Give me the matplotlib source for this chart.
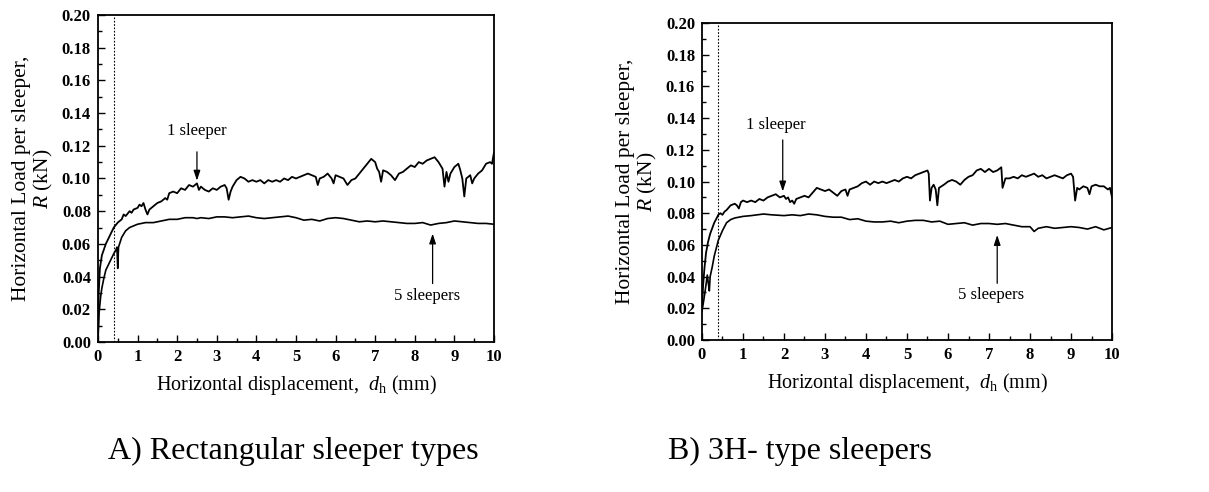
import matplotlib
matplotlib.use("Agg")
import matplotlib.pyplot as plt
from matplotlib.ticker import MultipleLocator

plt.rcParams['font.family'] = ['Liberation Serif', 'DejaVu Serif']
plt.rcParams['mathtext.fontset'] = 'custom'
plt.rcParams['mathtext.rm'] = 'Liberation Serif'
plt.rcParams['mathtext.it'] = 'Liberation Serif:italic'

# panel A, rectangular sleepers
rect_one_x = [0.0, 0.02, 0.05, 0.1, 0.2, 0.3, 0.4, 0.5, 0.6, 0.65, 0.7, 0.8, 0.85, 0.9, 1.0, 1.05, 1.1, 1.15,
              1.2, 1.25, 1.3, 1.4, 1.5, 1.6, 1.7, 1.75, 1.8, 1.9, 2.0, 2.1, 2.2, 2.3, 2.4, 2.5, 2.55, 2.6, 2.7,
              2.8, 2.9, 3.0, 3.1, 3.2, 3.25, 3.3, 3.35, 3.4, 3.5, 3.6, 3.7, 3.8, 3.9, 4.0, 4.1, 4.2, 4.3, 4.4,
              4.5, 4.6, 4.7, 4.8, 4.9, 5.0, 5.1, 5.2, 5.3, 5.4, 5.5, 5.55, 5.6, 5.7, 5.8, 5.9, 5.95, 6.0, 6.1,
              6.2, 6.3, 6.4, 6.5, 6.6, 6.7, 6.8, 6.9, 7.0, 7.05, 7.1, 7.15, 7.2, 7.3, 7.4, 7.5, 7.6, 7.7, 7.8,
              7.9, 8.0, 8.1, 8.2, 8.3, 8.4, 8.5, 8.6, 8.7, 8.75, 8.8, 8.85, 8.9, 9.0, 9.1, 9.15, 9.2, 9.25, 9.3,
              9.4, 9.45, 9.5, 9.6, 9.7, 9.8, 9.9, 9.95, 10.0]
rect_one_y = [0.000, 0.030, 0.045, 0.053, 0.060, 0.065, 0.070, 0.073, 0.075, 0.078, 0.077, 0.080, 0.079, 0.081,
              0.082, 0.084, 0.083, 0.085, 0.081, 0.078, 0.081, 0.083, 0.085, 0.086, 0.088, 0.087, 0.091, 0.092,
              0.091, 0.094, 0.093, 0.096, 0.095, 0.097, 0.093, 0.095, 0.093, 0.092, 0.094, 0.093, 0.095, 0.096,
              0.094, 0.087, 0.092, 0.095, 0.099, 0.101, 0.100, 0.098, 0.099, 0.098, 0.099, 0.097, 0.099, 0.098,
              0.099, 0.098, 0.100, 0.099, 0.101, 0.100, 0.101, 0.102, 0.103, 0.102, 0.101, 0.096, 0.100, 0.101,
              0.103, 0.100, 0.097, 0.102, 0.101, 0.100, 0.096, 0.099, 0.100, 0.103, 0.106, 0.109, 0.112, 0.110,
              0.106, 0.104, 0.098, 0.105, 0.104, 0.102, 0.099, 0.103, 0.104, 0.106, 0.108, 0.107, 0.110, 0.109,
              0.111, 0.112, 0.113, 0.110, 0.106, 0.095, 0.104, 0.098, 0.103, 0.107, 0.109, 0.105, 0.100, 0.089,
              0.100, 0.102, 0.097, 0.100, 0.103, 0.105, 0.109, 0.110, 0.109, 0.116]

rect_five_x = [0.0, 0.03, 0.07, 0.1, 0.15, 0.2, 0.3, 0.4, 0.45, 0.48, 0.5, 0.52, 0.6, 0.7, 0.8, 0.9, 1.0, 1.2,
               1.4, 1.6, 1.8, 2.0, 2.2, 2.4, 2.5, 2.6, 2.8, 3.0, 3.2, 3.4, 3.6, 3.8, 4.0, 4.2, 4.4, 4.6, 4.8,
               5.0, 5.2, 5.4, 5.6, 5.8, 6.0, 6.2, 6.4, 6.6, 6.8, 7.0, 7.2, 7.4, 7.6, 7.8, 8.0, 8.2, 8.4, 8.6,
               8.8, 9.0, 9.2, 9.4, 9.6, 9.8, 10.0]
rect_five_y = [0.000, 0.018, 0.028, 0.033, 0.039, 0.044, 0.049, 0.054, 0.056, 0.058, 0.045, 0.058, 0.064, 0.068,
               0.070, 0.071, 0.072, 0.073, 0.073, 0.074, 0.075, 0.075, 0.076, 0.076, 0.0755, 0.076, 0.0755, 0.0765,
               0.0765, 0.076, 0.0765, 0.077, 0.076, 0.0755, 0.076, 0.0765, 0.077, 0.076, 0.0745, 0.075, 0.074,
               0.0755, 0.076, 0.0755, 0.0745, 0.0735, 0.074, 0.0735, 0.074, 0.0735, 0.073, 0.0725, 0.0725, 0.073,
               0.0715, 0.0725, 0.073, 0.074, 0.0735, 0.073, 0.0725, 0.0725, 0.072]

# panel B, 3H-type sleepers
h3_one_x = [0.0, 0.03, 0.06, 0.1, 0.15, 0.2, 0.3, 0.4, 0.45, 0.5, 0.55, 0.6, 0.7, 0.8, 0.85, 0.9, 0.95, 1.0, 1.1,
            1.2, 1.3, 1.4, 1.5, 1.6, 1.7, 1.8, 1.9, 2.0, 2.05, 2.1, 2.15, 2.2, 2.25, 2.3, 2.4, 2.5, 2.6, 2.7,
            2.8, 2.9, 3.0, 3.1, 3.2, 3.3, 3.4, 3.5, 3.55, 3.6, 3.7, 3.8, 3.9, 4.0, 4.1, 4.2, 4.3, 4.4, 4.5,
            4.6, 4.7, 4.8, 4.9, 5.0, 5.1, 5.2, 5.3, 5.4, 5.5, 5.53, 5.56, 5.6, 5.65, 5.7, 5.74, 5.78, 5.9,
            6.0, 6.1, 6.2, 6.3, 6.4, 6.5, 6.6, 6.7, 6.8, 6.9, 7.0, 7.1, 7.2, 7.3, 7.33, 7.4, 7.5, 7.6, 7.7,
            7.8, 7.9, 8.0, 8.1, 8.2, 8.3, 8.4, 8.5, 8.6, 8.7, 8.8, 8.9, 9.0, 9.05, 9.1, 9.15, 9.2, 9.3, 9.4,
            9.45, 9.5, 9.6, 9.7, 9.8, 9.9, 9.95, 10.0]
h3_one_y = [0.020, 0.035, 0.045, 0.055, 0.062, 0.067, 0.074, 0.079, 0.080, 0.079, 0.081, 0.082, 0.085, 0.086,
            0.085, 0.083, 0.087, 0.088, 0.087, 0.088, 0.087, 0.089, 0.088, 0.090, 0.091, 0.092, 0.090, 0.091,
            0.089, 0.090, 0.087, 0.088, 0.086, 0.089, 0.090, 0.091, 0.090, 0.093, 0.096, 0.095, 0.094, 0.095,
            0.093, 0.091, 0.094, 0.095, 0.091, 0.095, 0.096, 0.097, 0.099, 0.100, 0.098, 0.100, 0.099, 0.100,
            0.099, 0.100, 0.101, 0.100, 0.102, 0.103, 0.102, 0.104, 0.105, 0.106, 0.107, 0.105, 0.088, 0.096,
            0.098, 0.095, 0.085, 0.096, 0.098, 0.100, 0.101, 0.100, 0.098, 0.101, 0.103, 0.104, 0.107, 0.108,
            0.106, 0.108, 0.106, 0.107, 0.109, 0.096, 0.102, 0.102, 0.103, 0.102, 0.104, 0.103, 0.104, 0.105,
            0.103, 0.104, 0.102, 0.103, 0.104, 0.103, 0.102, 0.104, 0.105, 0.103, 0.088, 0.096, 0.095, 0.097,
            0.096, 0.092, 0.097, 0.098, 0.097, 0.097, 0.095, 0.096, 0.090]

h3_five_x = [0.0, 0.05, 0.1, 0.13, 0.16, 0.18, 0.2, 0.25, 0.3, 0.35, 0.4, 0.5, 0.6, 0.7, 0.8, 1.0, 1.2, 1.5, 1.7,
             2.0, 2.2, 2.4, 2.6, 2.8, 3.0, 3.2, 3.4, 3.6, 3.8, 4.0, 4.2, 4.4, 4.6, 4.8, 5.0, 5.2, 5.4, 5.6,
             5.8, 6.0, 6.2, 6.4, 6.6, 6.8, 7.0, 7.2, 7.4, 7.6, 7.8, 8.0, 8.1, 8.2, 8.4, 8.6, 8.8, 9.0, 9.2,
             9.4, 9.6, 9.8, 10.0]
h3_five_y = [0.018, 0.026, 0.035, 0.041, 0.035, 0.031, 0.040, 0.046, 0.053, 0.058, 0.063, 0.069, 0.074, 0.076,
             0.077, 0.078, 0.0785, 0.0795, 0.079, 0.0785, 0.079, 0.0785, 0.0795, 0.079, 0.078, 0.0775, 0.0775,
             0.076, 0.0765, 0.075, 0.0745, 0.0745, 0.075, 0.074, 0.075, 0.0755, 0.0755, 0.0745, 0.075, 0.073,
             0.0735, 0.074, 0.0725, 0.0735, 0.0735, 0.073, 0.0735, 0.0725, 0.0715, 0.0715, 0.0685, 0.0705,
             0.0715, 0.0705, 0.071, 0.0715, 0.071, 0.070, 0.0715, 0.0695, 0.071]

x_ticks = [0, 1, 2, 3, 4, 5, 6, 7, 8, 9, 10]
y_ticks = [0.00, 0.02, 0.04, 0.06, 0.08, 0.10, 0.12, 0.14, 0.16, 0.18, 0.20]


def setup_axes(ax):
    ax.set_xlim(0, 10)
    ax.set_ylim(0, 0.20)
    ax.set_xticks(x_ticks)
    ax.set_yticks(y_ticks)
    ax.set_xticklabels([str(t) for t in x_ticks], fontweight='bold', fontsize=12)
    ax.set_yticklabels(['%.2f' % t for t in y_ticks], fontweight='bold', fontsize=12)
    ax.xaxis.set_minor_locator(MultipleLocator(0.5))
    ax.yaxis.set_minor_locator(MultipleLocator(0.01))
    ax.tick_params(which='both', direction='in', top=False, right=False, width=1.0)
    ax.tick_params(which='major', length=5, pad=5)
    ax.tick_params(which='minor', length=3)
    for s in ax.spines.values():
        s.set_linewidth(1.3)
    ax.axvline(0.4, color='black', lw=0.8, ls=(0, (1.5, 1.5)))
    ax.set_xlabel(r'Horizontal displacement,  $d_\mathrm{h}$ (mm)', fontsize=14.5, labelpad=6)
    ax.set_ylabel('Horizontal Load per sleeper,\n$R$ (kN)', fontsize=15.5, labelpad=5,
                  linespacing=1.05)


fig = plt.figure(figsize=(12.09, 4.92), dpi=100)
ax1 = fig.add_axes([0.081, 0.305, 0.3276, 0.6645])
ax2 = fig.add_axes([0.5806, 0.309, 0.3392, 0.644])

ax1.plot(rect_one_x, rect_one_y, color='black', lw=1.3)
ax1.plot(rect_five_x, rect_five_y, color='black', lw=1.2)
setup_axes(ax1)
arrow = dict(arrowstyle='-|>,head_length=0.6,head_width=0.2', color='black', lw=0.9, mutation_scale=10)
ax1.annotate('', xy=(2.5, 0.097), xytext=(2.5, 0.118), arrowprops=arrow)
ax1.text(2.5, 0.129, '1 sleeper', ha='center', va='center', fontsize=12)
ax1.annotate('', xy=(8.45, 0.068), xytext=(8.45, 0.034), arrowprops=arrow)
ax1.text(8.3, 0.028, '5 sleepers', ha='center', va='center', fontsize=12)

ax2.plot(h3_one_x, h3_one_y, color='black', lw=1.3)
ax2.plot(h3_five_x, h3_five_y, color='black', lw=1.2)
setup_axes(ax2)
ax2.annotate('', xy=(1.97, 0.092), xytext=(1.97, 0.128), arrowprops=arrow)
ax2.text(1.8, 0.1355, '1 sleeper', ha='center', va='center', fontsize=12)
ax2.annotate('', xy=(7.2, 0.068), xytext=(7.2, 0.034), arrowprops=arrow)
ax2.text(7.05, 0.0285, '5 sleepers', ha='center', va='center', fontsize=12)

fig.text(0.089, 0.083, 'A) Rectangular sleeper types', fontsize=23, va='center', ha='left')
fig.text(0.5525, 0.083, 'B) 3H- type sleepers', fontsize=23, va='center', ha='left')

fig.savefig('out.png', dpi=100)
